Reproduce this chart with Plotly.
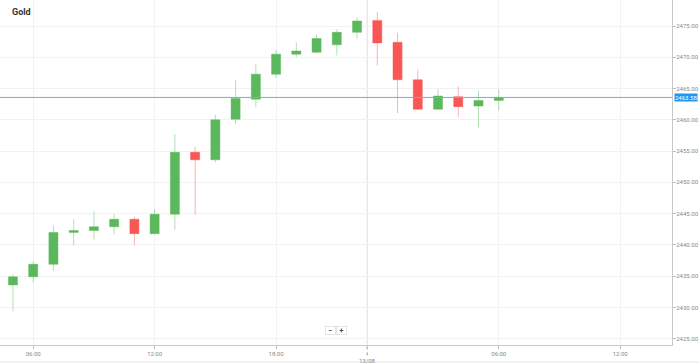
import plotly.graph_objects as go

# ---- data (hourly candles, 12/08 05:00 -> 13/08 06:00, 23:00 session break) ----
times = ["05:00", "06:00", "07:00", "08:00", "09:00", "10:00", "11:00", "12:00",
         "13:00", "14:00", "15:00", "16:00", "17:00", "18:00", "19:00", "20:00",
         "21:00", "22:00",
         "00:00", "01:00", "02:00", "03:00", "04:00", "05:00", "06:00"]
opens  = [2433.6, 2434.9, 2436.9, 2442.0, 2442.3, 2442.9, 2444.1, 2441.8,
          2444.9, 2454.8, 2453.6, 2460.1, 2463.3, 2467.3, 2470.5, 2470.8,
          2472.0, 2474.0,
          2475.9, 2472.4, 2466.4, 2461.7, 2463.7, 2462.2, 2463.1]
highs  = [2435.3, 2437.4, 2443.1, 2444.1, 2445.4, 2444.9, 2444.5, 2445.7,
          2457.7, 2455.7, 2460.8, 2466.4, 2468.9, 2471.2, 2472.4, 2473.6,
          2474.5, 2476.4,
          2477.2, 2473.9, 2468.0, 2464.9, 2465.3, 2464.7, 2464.9]
lows   = [2429.4, 2434.0, 2435.8, 2439.9, 2440.9, 2441.7, 2439.9, 2441.7,
          2442.4, 2444.8, 2453.2, 2459.3, 2462.0, 2466.7, 2470.0, 2470.6,
          2470.3, 2473.0,
          2468.7, 2461.1, 2461.6, 2461.6, 2460.5, 2458.8, 2461.5]
closes = [2434.9, 2436.9, 2442.0, 2442.3, 2442.9, 2444.1, 2441.8, 2444.9,
          2454.8, 2453.6, 2460.0, 2463.4, 2467.3, 2470.5, 2471.0, 2473.0,
          2474.0, 2475.8,
          2472.3, 2466.4, 2461.7, 2463.8, 2462.1, 2463.1, 2463.58]
current_price = 2463.58
title_text = "Gold"

x_tick_labels = ["06:00", "12:00", "18:00", "06:00", "12:00"]
x_tick_index = [1, 7, 13, 24, 30]          # candle slots (12:00 on 13/08 lies beyond the data)
day_break_index = 17.5                      # between 22:00 and 00:00 candles
day_break_label = "13/08"
y_ticks = [2425, 2430, 2435, 2440, 2445, 2450, 2455, 2460, 2465, 2470, 2475]

x = list(range(len(times)))

GREEN = "#5cb85c"
RED = "#f95656"
FONT = "Roboto"

fig = go.Figure()
fig.add_trace(go.Candlestick(
    x=x, open=opens, high=highs, low=lows, close=closes,
    increasing=dict(fillcolor=GREEN, line=dict(color="rgba(92,184,92,0.45)", width=1)),
    decreasing=dict(fillcolor=RED, line=dict(color="rgba(249,86,86,0.45)", width=1)),
    whiskerwidth=0, showlegend=False, hoverinfo="skip",
))

# day break line
fig.add_shape(type="line", xref="x", yref="paper", x0=day_break_index, x1=day_break_index,
              y0=0, y1=1, line=dict(color="#dedede", width=1), layer="below")
fig.add_shape(type="line", xref="x", yref="paper", x0=day_break_index, x1=day_break_index,
              y0=-0.03, y1=0, line=dict(color="#999999", width=1, dash="dot"))
fig.add_annotation(x=day_break_index, xref="x", y=-0.029, yref="paper", text=day_break_label,
                   showarrow=False, yanchor="top", font=dict(family=FONT, size=6, color="#888888"))

# current price line + label
fig.add_shape(type="line", xref="paper", yref="y", x0=0, x1=1, y0=current_price, y1=current_price,
              line=dict(color="#5cb4f0", width=1))
fig.add_annotation(x=1.0, xref="paper", y=current_price, yref="y", text=f"{current_price:.2f}",
                   showarrow=False, xanchor="left", xshift=2, bgcolor="#2196f3", borderpad=0,
                   font=dict(family=FONT, size=6, color="white"))

# title
fig.add_annotation(x=0.015, xref="paper", y=0.965, yref="paper", text=f"<b>{title_text}</b>",
                   showarrow=False, xanchor="left", yanchor="middle",
                   font=dict(family=FONT, size=9, color="#333333"))

# zoom buttons
for xp, t in [(0.492, "−"), (0.508, "+")]:
    fig.add_annotation(x=xp, xref="paper", y=0.03, yref="paper", text=f"<b>{t}</b>", showarrow=False,
                       font=dict(family=FONT, size=7, color="#444444"), bgcolor="white",
                       bordercolor="#e4e4e4", borderwidth=1, borderpad=0, width=9, height=7)

# bottom border line
fig.add_shape(type="line", xref="paper", yref="paper", x0=0, x1=1.04, y0=-0.049, y1=-0.049,
              line=dict(color="#e6e6e6", width=1))

fig.update_layout(
    width=699, height=364,
    margin=dict(l=0, r=24, t=0, b=19),
    paper_bgcolor="white", plot_bgcolor="white",
    boxgap=0.36,
    font=dict(family=FONT, size=6, color="#888888"),
    xaxis=dict(
        range=[-0.64, 32.56], rangeslider=dict(visible=False),
        tickvals=x_tick_index, ticktext=x_tick_labels,
        showgrid=True, gridcolor="#f2f2f2", gridwidth=1,
        showline=True, linecolor="#c8c8c8", linewidth=1,
        ticks="outside", ticklen=3, tickcolor="#bbbbbb",
        tickfont=dict(family=FONT, size=6, color="#888888"), zeroline=False,
    ),
    yaxis=dict(
        side="right", range=[2423.99, 2479.16],
        tickvals=y_ticks, tickformat=".2f",
        showgrid=True, gridcolor="#f2f2f2", gridwidth=1,
        showline=True, linecolor="#c8c8c8", linewidth=1,
        ticks="outside", ticklen=3, tickcolor="#bbbbbb", ticklabelstandoff=-1,
        tickfont=dict(family=FONT, size=6, color="#888888"), zeroline=False,
    ),
)

# remove the default 8px page margin so the 699x364 figure fills the window exactly
fig.write_html("out.html", config={"displayModeBar": False},
               post_script="document.body.style.margin='0';document.body.style.overflow='hidden';")
